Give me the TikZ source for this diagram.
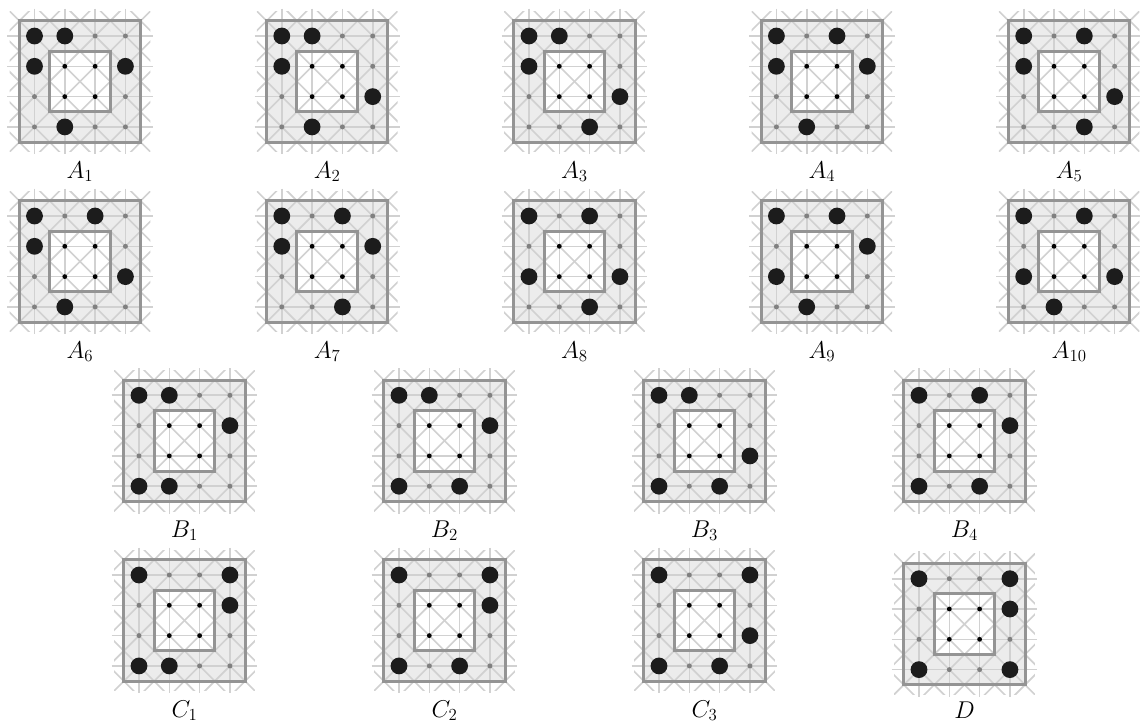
\documentclass[tikz,border=0pt]{standalone}
\usepackage{tikz}
\definecolor{ringfill}{gray}{0.925}
\definecolor{boardline}{gray}{0.58}
\definecolor{gridline}{gray}{0.82}
\definecolor{stonecol}{gray}{0.11}
\definecolor{ringdot}{gray}{0.5}
\tikzset{
  boardedge/.style={draw=boardline,line width=2.1pt},
  gridedge/.style={draw=gridline,line width=1.15pt},
  stone/.style={fill=stonecol},
  ringpt/.style={fill=ringdot},
  innerpt/.style={fill=black},
  boardlabel/.style={anchor=base,font=\LARGE}
}
\begin{document}
\begin{tikzpicture}[x=0.025cm,y=-0.025cm]
\useasboundingbox (0,0) rectangle (1140,724);
\foreach \bx/\by/\lab/\nm/\ly/\big in {
34.5/36/A_1/a1/142/{0/0,1/0,0/1,3/1,1/3},
281.8/36/A_2/a2/142/{0/0,1/0,0/1,3/2,1/3},
529/36/A_3/a3/142/{0/0,1/0,0/1,3/2,2/3},
776.4/36/A_4/a4/142/{0/0,2/0,0/1,3/1,1/3},
1023.7/36/A_5/a5/142/{0/0,2/0,0/1,3/2,2/3},
34.5/216/A_6/a6/142/{0/0,2/0,0/1,3/2,1/3},
281.8/216/A_7/a7/142/{0/0,2/0,0/1,3/1,2/3},
529/216/A_8/a8/142/{0/0,2/0,0/2,3/2,2/3},
776.4/216/A_9/a9/142/{0/0,2/0,3/1,0/2,1/3},
1023.7/216/A_{10}/a10/142/{0/0,2/0,0/2,3/2,1/3},
139/395.3/B_1/b1/142/{0/0,1/0,3/1,0/3,1/3},
399/395.3/B_2/b2/142/{0/0,1/0,3/1,0/3,2/3},
659/395.3/B_3/b3/142/{0/0,1/0,3/2,0/3,2/3},
919/395.3/B_4/b4/142/{0/0,2/0,3/1,0/3,2/3},
139/575/C_1/c1/142/{0/0,3/0,3/1,0/3,1/3},
399/575/C_2/c2/142/{0/0,3/0,3/1,0/3,2/3},
659/575/C_3/c3/142/{0/0,3/0,3/2,0/3,2/3},
919/578.7/D/d/139.5/{0/0,3/0,3/1,0/3,3/3}}{
  \node[boardlabel] (\nm) at (\bx+45.5,\by+\ly) {$\lab$};
  \begin{scope}[shift={(\bx,\by)},x=0.7575cm,y=-0.7575cm]
    \fill[ringfill,even odd rule] (-0.5,-0.5) rectangle (3.5,3.5) (0.5,0.5) rectangle (2.5,2.5);
    \foreach \k in {0,1,2,3} {
      \draw[gridedge] (-0.9,\k) -- (3.9,\k);
      \draw[gridedge] (\k,-0.9) -- (\k,3.9);
    }
    \begin{scope}
      \clip (-0.82,-0.82) rectangle (3.82,3.82);
      \foreach \k in {-4,...,4} \draw[gridedge] (\k-1,-1) -- (\k+5,5);
      \foreach \k in {-1,...,7} \draw[gridedge] (\k+1,-1) -- (\k-5,5);
    \end{scope}
    \draw[boardedge] (-0.5,-0.5) rectangle (3.5,3.5);
    \draw[boardedge] (0.5,0.5) rectangle (2.5,2.5);
    \foreach \k in {0,1,2,3} {
      \fill[ringpt] (\k,0) circle (0.062cm);
      \fill[ringpt] (\k,3) circle (0.062cm);
    }
    \foreach \k in {1,2} {
      \fill[ringpt] (0,\k) circle (0.062cm);
      \fill[ringpt] (3,\k) circle (0.062cm);
      \fill[innerpt] (1,\k) circle (0.06cm);
      \fill[innerpt] (2,\k) circle (0.06cm);
    }
    \foreach \i/\j in \big \fill[stone] (\i,\j) circle (0.21cm);
  \end{scope}
}
\end{tikzpicture}
\end{document}
